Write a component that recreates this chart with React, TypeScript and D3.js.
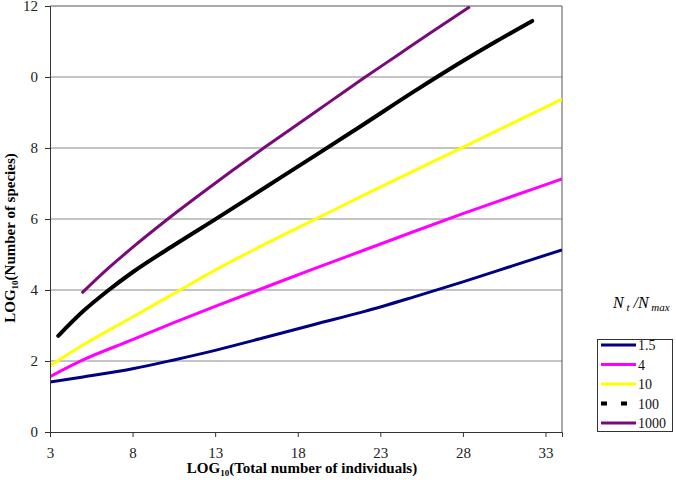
import React, { useRef, useEffect } from 'react';
import * as d3 from 'd3';

// tick values and the labels the original chart prints (the 10 shows as "0")
const xTicks = [3, 8, 13, 18, 23, 28, 33];
const yTicks = [0, 2, 4, 6, 8, 10, 12];
const yTickLabels = ['0', '2', '4', '6', '8', '0', '12'];

// series: [log10 individuals, log10 species]
const s1_5 = [[3, 1.41], [5, 1.55], [8, 1.78], [10.5, 2.03], [13, 2.3], [16, 2.66], [19, 3.03], [22, 3.39], [25, 3.8], [28, 4.23], [31, 4.68], [34, 5.13]];
const s4 = [[3, 1.56], [5, 2.03], [8, 2.6], [10.5, 3.08], [13, 3.54], [16, 4.07], [19, 4.6], [22, 5.12], [25, 5.64], [28, 6.15], [31, 6.64], [34, 7.13]];
const s10 = [[3, 1.87], [5, 2.45], [8, 3.24], [10.5, 3.9], [13, 4.56], [16, 5.29], [19, 5.98], [22, 6.67], [25, 7.35], [28, 8.02], [31, 8.7], [34, 9.38]];
const s100 = [[3.5, 2.71], [5, 3.4], [6.5, 3.98], [8, 4.5], [10.5, 5.26], [13, 5.99], [16, 6.88], [19, 7.77], [22, 8.67], [25, 9.58], [28, 10.45], [30, 11.0], [32.2, 11.58]];
const s1000 = [[4.92, 3.91], [6.5, 4.6], [8, 5.2], [10, 5.95], [12, 6.66], [14, 7.35], [16, 8.02], [18, 8.67], [20, 9.32], [22, 9.97], [24, 10.6], [26, 11.23], [28.42, 11.98]];

const seriesNames = ['1.5', '4', '10', '100', '1000'];
const seriesData = [s1_5, s4, s10, s100, s1000];
const seriesColors = ['#000080', '#ff00ff', '#ffff00', '#000000', '#7a0a7a'];
const seriesWidths = [3, 3, 3, 4, 3];

const App = () => {
    const svgRef = useRef(null);

    useEffect(() => {
        const svg = d3.select(svgRef.current);
        svg.selectAll('*').remove();

        const font = '"Liberation Serif", "Times New Roman", serif';
        const left = 50, right = 562, top = 6, bottom = 432;

        const x = d3.scaleLinear().domain([3, 34]).range([left, right]);
        const y = d3.scaleLinear().domain([0, 12]).range([bottom, top]);

        // gridlines
        svg.append('g')
            .selectAll('line')
            .data(yTicks.filter(d => d > 0 && d < 12))
            .enter().append('line')
            .attr('x1', left).attr('x2', right)
            .attr('y1', d => y(d)).attr('y2', d => y(d))
            .attr('stroke', '#8a8a8a').attr('stroke-width', 1);

        // plot frame (top and right)
        svg.append('path')
            .attr('d', `M${left},${top}H${right}V${bottom}`)
            .attr('fill', 'none').attr('stroke', '#555').attr('stroke-width', 1);

        svg.append('defs').append('clipPath').attr('id', 'plotclip')
            .append('rect').attr('x', left).attr('y', top)
            .attr('width', right - left).attr('height', bottom - top);

        const line = d3.line()
            .x(d => x(d[0]))
            .y(d => y(d[1]))
            .curve(d3.curveMonotoneX);

        const lines = svg.append('g').attr('clip-path', 'url(#plotclip)');
        seriesData.forEach((data, i) => {
            lines.append('path')
                .attr('d', line(data))
                .attr('fill', 'none')
                .attr('stroke', seriesColors[i])
                .attr('stroke-width', seriesWidths[i])
                .attr('stroke-linecap', i === 3 ? 'round' : 'butt');
        });

        // y axis
        const yAxis = svg.append('g').attr('transform', `translate(${left},0)`)
            .call(d3.axisLeft(y).tickValues(yTicks).tickSize(5).tickPadding(7)
                .tickFormat((d, i) => yTickLabels[i]));
        yAxis.select('.domain').attr('stroke', '#333');
        yAxis.selectAll('.tick line').attr('stroke', '#333');
        yAxis.selectAll('text').attr('font-family', font).attr('font-size', 15).attr('fill', '#222');

        // x axis
        const xAxis = svg.append('g').attr('transform', `translate(0,${bottom})`)
            .call(d3.axisBottom(x).tickValues(xTicks).tickSize(5).tickPadding(10));
        xAxis.select('.domain').attr('stroke', '#333');
        xAxis.selectAll('.tick line').attr('stroke', '#333');
        xAxis.selectAll('text').attr('font-family', font).attr('font-size', 15).attr('fill', '#222');

        // axis titles
        const xt = svg.append('text')
            .attr('x', 302).attr('y', 473)
            .attr('text-anchor', 'middle')
            .attr('font-family', font).attr('font-size', 15).attr('font-weight', 'bold');
        xt.append('tspan').text('LOG');
        xt.append('tspan').attr('font-size', 9).attr('dy', 3).text('10');
        xt.append('tspan').attr('dy', -3).text('(Total number of individuals)');

        const yt = svg.append('text')
            .attr('transform', 'translate(15,238) rotate(-90)')
            .attr('text-anchor', 'middle')
            .attr('font-family', font).attr('font-size', 15).attr('font-weight', 'bold');
        yt.append('tspan').text('LOG');
        yt.append('tspan').attr('font-size', 9).attr('dy', 3).text('10');
        yt.append('tspan').attr('dy', -3).text('(Number of species)');

        // legend title
        const lt = svg.append('text')
            .attr('x', 613).attr('y', 308)
            .attr('font-family', font).attr('font-size', 16).attr('font-style', 'italic');
        lt.append('tspan').text('N');
        lt.append('tspan').attr('font-size', 11).attr('dy', 3).text(' t');
        lt.append('tspan').attr('dy', -3).text(' /N');
        lt.append('tspan').attr('font-size', 11).attr('dy', 3).text(' max');

        // legend box
        const lg = svg.append('g');
        lg.append('rect')
            .attr('x', 597.5).attr('y', 339.5).attr('width', 75).attr('height', 92)
            .attr('fill', '#fff').attr('stroke', '#333').attr('stroke-width', 1);
        seriesNames.forEach((name, i) => {
            const ly = 345 + i * 19.5;
            lg.append('line')
                .attr('x1', 601).attr('x2', 636).attr('y1', ly).attr('y2', ly)
                .attr('stroke', seriesColors[i]).attr('stroke-width', i === 3 ? 4 : 3)
                .attr('stroke-dasharray', i === 3 ? '6,14' : null);
            lg.append('text')
                .attr('x', 638).attr('y', ly + 5)
                .attr('font-family', font).attr('font-size', 14).attr('fill', '#111')
                .text(name);
        });
    }, []);

    return (
        <svg ref={svgRef} width={676} height={486}
            style={{ position: 'absolute', left: 0, top: 0, background: '#fff' }} />
    );
};

export default App;
